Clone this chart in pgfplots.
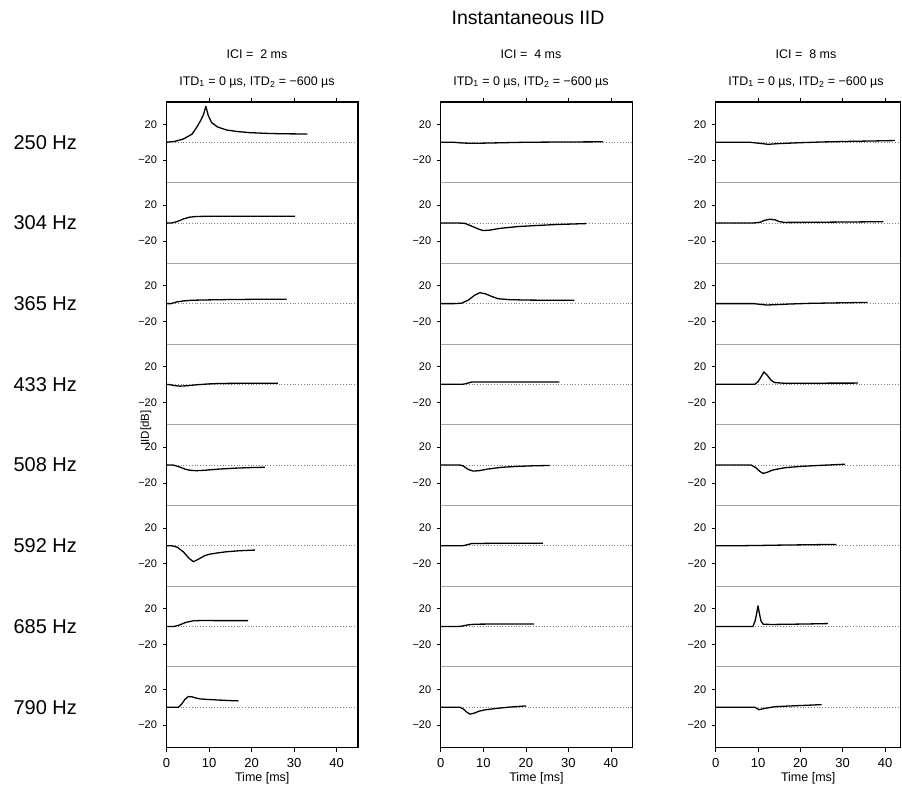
\documentclass[border=0pt]{standalone}
\usepackage{fontspec}
\setmainfont{Liberation Sans}
\usepackage{pgfplots}
\pgfplotsset{compat=1.18}

% one small panel of a column: x of left edge, y of bottom edge, extra options, curve
\pgfplotsset{
  panel/.style={
    scale only axis, width=191.5pt, height=80.7pt,
    xmin=0, xmax=45, ymin=-45, ymax=45,
    axis line style={draw=gray!70, line width=0.7pt},
    ytick={-20,20}, yticklabels={−20,20},
    ytick pos=left, tick align=outside, major tick length=4pt,
    tick style={black, line width=0.6pt},
    yticklabel style={font=\fontsize{11}{12}\selectfont, xshift=-2pt},
    xtick=\empty,
  },
  toprow/.style={xtick={10,20,30,40}, xtick pos=right, xticklabels={,,,}},
  bottomrow/.style={xtick={0,10,20,30,40}, xticklabels={0,10,20,30,40}, xtick pos=left,
    xticklabel style={font=\fontsize{13}{14}\selectfont, yshift=-3pt},
    xlabel={Time [ms]},
    xlabel style={at={(axis description cs:0.5,-0.378)}, anchor=center, font=\fontsize{12.5}{14}\selectfont}},
  col3/.style={width=185pt, xmax=43.7},
  curve/.style={black, line width=1.3pt, line join=round},
  zero/.style={gray, dotted, line width=0.8pt},
}
\newcommand{\panel}[4]{%
  \begin{axis}[panel, at={(#1,#2)}, #3]
    \addplot[zero] coordinates {(0,0) (45,0)};
    \addplot[curve] coordinates {#4};
  \end{axis}}

\begin{document}
\begin{tikzpicture}
% ---------- ICI = 2 ms ----------
\panel{166.5pt}{607.4pt}{toprow}{(0,0) (2,1) (4,3.7) (6,9) (7.1,16.7) (8,24) (8.7,31) (9.25,40) (9.8,30) (10.6,22) (12,17) (14.1,13.7) (16.5,12) (19.6,10.7) (24,9.8) (28,9.4) (33.1,9.2)}
\panel{166.5pt}{526.7pt}{}{(0,0) (1.2,0) (2.5,1.5) (4,4.5) (5.5,6.5) (7,7.2) (10,7.5) (15,7.5) (20,7.4) (25,7.4) (30.2,7.4)}
\panel{166.5pt}{446.0pt}{}{(0,0) (1,0) (2.5,2) (4,3) (6,3.8) (10,4.2) (15,4.6) (20,4.8) (25,5) (28.2,5)}
\panel{166.5pt}{365.3pt}{}{(0,0) (1,-0.5) (2,-1.5) (3.2,-2) (5,-1.5) (7,-0.5) (10,0.5) (12.5,1) (18,1.2) (22,1.3) (26.2,1.3)}
\panel{166.5pt}{284.6pt}{}{(0,0) (1.6,0) (3,-2) (4.5,-4.8) (5.5,-5.8) (7,-6.3) (9,-5.8) (12,-4.6) (16,-3.5) (20,-2.8) (23.1,-2.5)}
\panel{166.5pt}{203.9pt}{}{(0,0) (1.2,0) (2.5,-1.5) (4,-7) (5.3,-14) (6.3,-17.8) (7.5,-15) (9,-11) (10.2,-9.3) (12,-8) (14.1,-6.7) (17,-5.6) (20.8,-4.8)}
\panel{166.5pt}{123.2pt}{}{(0,0) (1.8,0) (3,1.5) (4.5,4.5) (6.3,6.3) (8,6.6) (12,6.5) (16,6.5) (19.2,6.5)}
\panel{166.5pt}{42.5pt}{bottomrow}{(0,0) (2.8,0) (3.5,3) (4.3,8.5) (5.1,11.8) (6,11.5) (6.9,10.2) (7.9,9.2) (10,8.5) (12,8) (15,7.3) (16.9,7)}
% ---------- ICI = 4 ms ----------
\panel{440.7pt}{607.4pt}{toprow}{(0,0) (3,0) (5,-0.8) (7,-1.2) (10,-1) (15,-0.5) (20,0) (30,0.3) (38.1,0.5)}
\panel{440.7pt}{526.7pt}{}{(0,0) (4,0) (5.7,-0.5) (7.5,-4) (9,-7) (10,-8.5) (11.5,-8) (14,-6) (18.2,-4) (22,-3) (27,-1.8) (34.2,-0.7)}
\panel{440.7pt}{446.0pt}{}{(0,0) (3,0) (4.9,0.5) (6.5,4) (8,9.5) (9.2,12.2) (10.5,11) (12,8) (13.5,5.5) (16,4.5) (20,4) (25,3.8) (31.4,3.7)}
\panel{440.7pt}{365.3pt}{}{(0,0) (5,0) (5.7,0.5) (7.3,2.6) (12,2.7) (20,2.7) (27.9,2.7)}
\panel{440.7pt}{284.6pt}{}{(0,0) (4.5,0) (5.3,-1) (6.5,-5) (7.6,-6.7) (9,-6.3) (11,-4.5) (14.3,-2.5) (18,-1.5) (22,-0.8) (25.6,-0.5)}
\panel{440.7pt}{203.9pt}{}{(0,0) (5,0) (5.7,0.5) (7.3,2.5) (12,2.7) (18,2.8) (24,2.8)}
\panel{440.7pt}{123.2pt}{}{(0,0) (4,0) (4.9,0.3) (6.5,1.8) (8,2.5) (12,2.7) (17,2.8) (21.9,2.8)}
\panel{440.7pt}{42.5pt}{bottomrow}{(0,0) (4.5,0) (5.3,-2) (6.1,-5.5) (6.9,-7.8) (8,-6.5) (9,-4.5) (10.4,-3) (13,-1.5) (16,0) (20.1,1.4)}
% ---------- ICI = 8 ms ----------
\panel{715.7pt}{607.4pt}{col3, toprow}{(0,0) (8,0) (10,-1) (12.4,-2.3) (15,-1.5) (20,-0.5) (25,0.3) (32,1) (38,1.5) (42.3,1.9)}
\panel{715.7pt}{526.7pt}{col3}{(0,0) (9,0) (10.5,0.8) (11.5,2.8) (12.8,4.2) (14,3.5) (15,1.5) (16.3,0.6) (22,0.7) (30,1) (39.6,1.4)}
\panel{715.7pt}{446.0pt}{col3}{(0,0) (9,0) (10.5,-0.8) (12,-1.5) (14,-1.2) (17,-0.5) (22,0.3) (28,0.8) (35.8,1.4)}
\panel{715.7pt}{365.3pt}{col3}{(0,0) (9.2,0) (10,3) (10.8,9) (11.4,13.9) (12.2,10) (13,5) (13.9,2) (16,1.3) (22,1.3) (33.6,1.4)}
\panel{715.7pt}{284.6pt}{col3}{(0,0) (8.4,0) (9.5,-3) (10.4,-7) (11.2,-9.3) (12.2,-8) (13.5,-5.5) (16.3,-3) (20,-1.5) (25,-0.3) (30.5,0.9)}
\panel{715.7pt}{203.9pt}{col3}{(0,0) (5,0) (10,0.3) (15,0.7) (20,1) (28.5,1.5)}
\panel{715.7pt}{123.2pt}{col3}{(0,0) (8.8,0) (9.3,6) (9.7,15) (10,23) (10.3,15) (10.7,6) (11.2,2.5) (13,2.2) (18,2.5) (22,2.8) (26.5,3.2)}
\panel{715.7pt}{42.5pt}{col3, bottomrow}{(0,0) (9.2,0) (10.2,-2.8) (11.5,-1.5) (13.9,0.5) (17,1.2) (21,2) (25,2.8)}

% outer frames of the three columns
\draw[line width=1.3pt] (166.5pt,42.5pt) rectangle (358pt,688.1pt);
\draw[line width=1.3pt] (440.7pt,42.5pt) rectangle (632.2pt,688.1pt);
\draw[line width=1.3pt] (715.7pt,42.5pt) rectangle (900.7pt,688.1pt);

% titles and labels
\node[font=\fontsize{19.5}{22}\selectfont] at (528pt,772pt) {Instantaneous IID};
\foreach \cx/\ici in {257/2, 531/4, 806/8} {
  \node[font=\fontsize{12.5}{14}\selectfont] at (\cx pt,736pt) {ICI =\ \ \ici\ ms};
  \node[font=\fontsize{12.5}{14}\selectfont] at (\cx pt,708pt) {ITD\textsubscript{1} = 0 µs, ITD\textsubscript{2} = −600 µs};
}
\foreach \yc/\f in {647.75/250, 567.05/304, 486.35/365, 405.65/433, 324.95/508, 244.25/592, 163.55/685, 82.85/790} {
  \node[anchor=west, font=\fontsize{20}{22}\selectfont] at (10pt,\yc pt) {\f\ Hz};
}
\node[rotate=90, font=\fontsize{11.5}{14}\selectfont] at (146pt,362pt) {IID[dB]};

\pgfresetboundingbox
\path[use as bounding box] (0,0) rectangle (902pt,790pt);
\end{tikzpicture}
\end{document}
